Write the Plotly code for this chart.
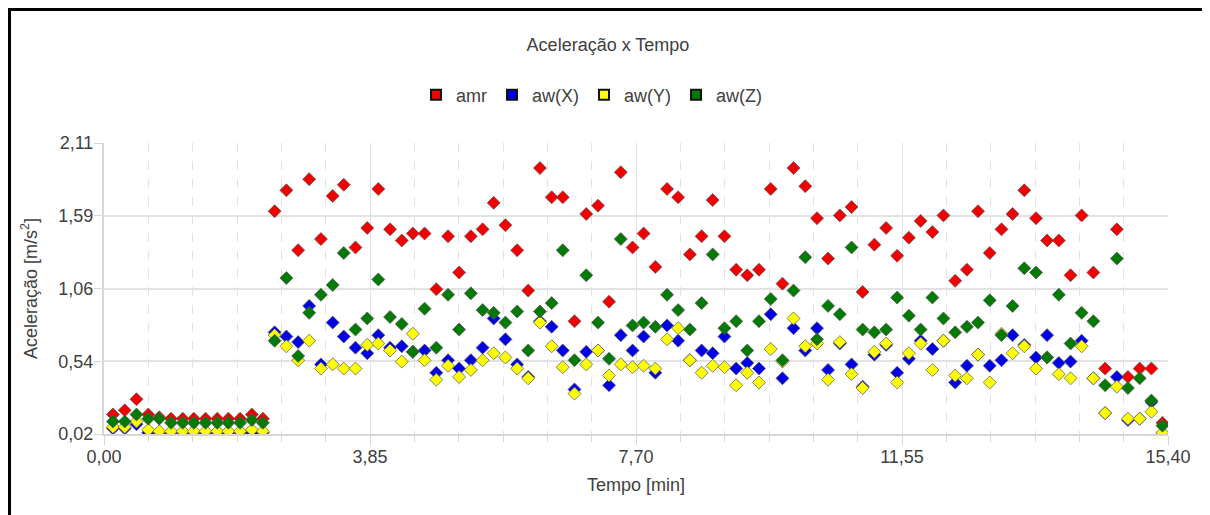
import plotly.graph_objects as go

# ---- data ----
tempo = [0.13, 0.30, 0.47, 0.64, 0.80, 0.97, 1.14, 1.30, 1.47, 1.64, 1.80, 1.97, 2.14, 2.30,
         2.47, 2.64, 2.81, 2.97, 3.14, 3.31, 3.47, 3.64, 3.81, 3.97, 4.14, 4.31, 4.47, 4.64,
         4.81, 4.98, 5.14, 5.31, 5.48, 5.64, 5.81, 5.98, 6.14, 6.31, 6.48, 6.64, 6.81, 6.98,
         7.15, 7.31, 7.48, 7.65, 7.81, 7.98, 8.15, 8.31, 8.48, 8.65, 8.81, 8.98, 9.15, 9.31,
         9.48, 9.65, 9.82, 9.98, 10.15, 10.32, 10.48, 10.65, 10.82, 10.98, 11.15, 11.32, 11.48,
         11.65, 11.82, 11.99, 12.15, 12.32, 12.49, 12.65, 12.82, 12.99, 13.15, 13.32, 13.49,
         13.65, 13.82, 13.99, 14.15, 14.32, 14.49, 14.66, 14.82, 14.99, 15.16, 15.32]

amr = [0.16, 0.19, 0.27, 0.16, 0.14, 0.13, 0.13, 0.13, 0.13, 0.13, 0.13, 0.13, 0.16, 0.13,
       1.62, 1.77, 1.34, 1.85, 1.42, 1.73, 1.81, 1.36, 1.50, 1.78, 1.49, 1.41, 1.46, 1.46,
       1.06, 1.44, 1.18, 1.44, 1.49, 1.68, 1.52, 1.34, 1.05, 1.93, 1.72, 1.72, 0.83, 1.60,
       1.66, 0.97, 1.90, 1.36, 1.46, 1.22, 1.78, 1.72, 1.31, 1.44, 1.70, 1.44, 1.20, 1.16,
       1.20, 1.78, 1.10, 1.93, 1.80, 1.57, 1.28, 1.59, 1.65, 1.04, 1.38, 1.50, 1.30, 1.43,
       1.55, 1.47, 1.59, 1.12, 1.20, 1.62, 1.32, 1.49, 1.60, 1.77, 1.57, 1.41, 1.41, 1.16,
       1.59, 1.18, 0.49, 1.49, 0.43, 0.49, 0.49, 0.10]

aw_x = [0.06, 0.06, 0.09, 0.03, 0.03, 0.03, 0.03, 0.03, 0.03, 0.03, 0.03, 0.03, 0.03, 0.03,
        0.75, 0.72, 0.68, 0.94, 0.52, 0.82, 0.72, 0.64, 0.60, 0.73, 0.64, 0.65, 0.61, 0.62,
        0.46, 0.55, 0.49, 0.55, 0.64, 0.85, 0.70, 0.52, 0.43, 0.83, 0.79, 0.62, 0.34, 0.61,
        0.62, 0.37, 0.73, 0.62, 0.72, 0.46, 0.80, 0.69, 0.55, 0.62, 0.60, 0.72, 0.49, 0.53,
        0.49, 0.88, 0.42, 0.78, 0.62, 0.78, 0.48, 0.67, 0.52, 0.36, 0.59, 0.66, 0.46, 0.56,
        0.69, 0.63, 0.69, 0.39, 0.51, 0.59, 0.51, 0.55, 0.73, 0.66, 0.57, 0.73, 0.53, 0.54,
        0.69, 0.42, 0.17, 0.43, 0.12, 0.13, 0.25, 0.02]

aw_y = [0.07, 0.07, 0.11, 0.05, 0.04, 0.04, 0.04, 0.04, 0.04, 0.04, 0.04, 0.04, 0.05, 0.04,
        0.73, 0.65, 0.55, 0.69, 0.49, 0.52, 0.49, 0.49, 0.66, 0.67, 0.62, 0.54, 0.74, 0.55,
        0.41, 0.51, 0.43, 0.48, 0.55, 0.60, 0.57, 0.49, 0.42, 0.82, 0.65, 0.50, 0.31, 0.52,
        0.62, 0.44, 0.52, 0.50, 0.51, 0.49, 0.70, 0.78, 0.55, 0.46, 0.51, 0.50, 0.37, 0.46,
        0.39, 0.63, 0.54, 0.85, 0.65, 0.67, 0.41, 0.68, 0.45, 0.35, 0.61, 0.67, 0.39, 0.60,
        0.67, 0.48, 0.69, 0.44, 0.42, 0.59, 0.39, 0.74, 0.60, 0.65, 0.49, 0.57, 0.45, 0.42,
        0.65, 0.42, 0.17, 0.36, 0.13, 0.13, 0.18, 0.03]

aw_z = [0.11, 0.11, 0.16, 0.13, 0.13, 0.10, 0.10, 0.10, 0.10, 0.10, 0.10, 0.10, 0.12, 0.10,
        0.69, 1.14, 0.58, 0.89, 1.02, 1.09, 1.32, 0.77, 0.85, 1.13, 0.86, 0.81, 0.61, 0.92,
        0.64, 1.02, 0.77, 1.03, 0.91, 0.89, 0.82, 0.90, 0.62, 0.90, 0.96, 1.34, 0.55, 1.16,
        0.82, 0.56, 1.42, 0.80, 0.82, 0.79, 1.02, 0.91, 0.77, 0.96, 1.31, 0.78, 0.83, 0.62,
        0.83, 0.99, 0.55, 1.05, 1.29, 0.70, 0.94, 0.88, 1.36, 0.77, 0.75, 0.77, 1.00, 0.87,
        0.77, 1.00, 0.85, 0.75, 0.79, 0.82, 0.98, 0.73, 0.94, 1.21, 1.18, 0.57, 1.02, 0.67,
        0.89, 0.83, 0.37, 1.28, 0.35, 0.42, 0.26, 0.08]

series_names = ["amr", "aw(X)", "aw(Y)", "aw(Z)"]
series_values = [amr, aw_x, aw_y, aw_z]
series_colors = ["#f20000", "#0000e6", "#ffff00", "#037a03"]

x_tickvals = [0.00, 3.85, 7.70, 11.55, 15.40]
x_ticktext = ["0,00", "3,85", "7,70", "11,55", "15,40"]
y_tickvals = [0.02, 0.5425, 1.065, 1.5875, 2.11]
y_ticktext = ["0,02", "0,54", "1,06", "1,59", "2,11"]

FONT = "Liberation Sans, Arial, sans-serif"
TXT = "#404040"

# figure is placed at (8, 8) in the page by the default body margin
W, H = 1202, 507
L, R, T, B = 96, 42, 135, 81
PW, PH = W - L - R, H - T - B


def px_x(v):
    return (v - L) / PW


def px_y(v):
    return (H - B - v) / PH


fig = go.Figure()
for name, vals, col in zip(series_names, series_values, series_colors):
    fig.add_trace(go.Scatter(
        x=tempo, y=vals, mode="markers", name=name, showlegend=False,
        marker=dict(symbol="diamond", size=10, color=col,
                    line=dict(color="rgba(90,90,90,0.75)", width=1)),
    ))
# legend entries (square swatches)
for name, col in zip(series_names, series_colors):
    fig.add_trace(go.Scatter(
        x=[None], y=[None], mode="markers", name=name, showlegend=True,
        marker=dict(symbol="square", size=10, color=col,
                    line=dict(color="#111111", width=2)),
    ))

fig.update_layout(
    width=W, height=H,
    margin=dict(l=L, r=R, t=T, b=B),
    paper_bgcolor="white", plot_bgcolor="white",
    font=dict(family=FONT, size=18, color=TXT),
    title=dict(text="Aceleração x Tempo", x=(608 - 8) / W, xref="container", xanchor="center",
               y=1 - 37 / H, yref="container", yanchor="middle",
               font=dict(family=FONT, size=18, color=TXT)),
    legend=dict(orientation="h", x=px_x(584), xanchor="center",
                y=px_y(87), yanchor="middle",
                font=dict(family=FONT, size=18, color=TXT),
                itemwidth=30, bgcolor="rgba(0,0,0,0)"),
    xaxis=dict(range=[0, 15.4], tickvals=x_tickvals, ticktext=x_ticktext,
               showgrid=True, gridcolor="#e2e2e2", gridwidth=1,
               showline=True, linecolor="#d6d6d6", linewidth=2,
               ticks="outside", ticklen=9, tickcolor="#d6d6d6", tickwidth=1,
               ticklabelstandoff=-4,
               zeroline=False,
               tickfont=dict(family=FONT, size=18, color=TXT),
               title=dict(text="Tempo [min]", standoff=13,
                          font=dict(family=FONT, size=18, color=TXT)),
               minor=dict(tick0=0, dtick=3.85 / 6, showgrid=True, gridcolor="#e2e2e2",
                          griddash="dash", gridwidth=1, ticks="outside", ticklen=6,
                          tickcolor="#d6d6d6")),
    yaxis=dict(range=[0.02, 2.11], tickvals=y_tickvals, ticktext=y_ticktext,
               showgrid=True, gridcolor="#e2e2e2", gridwidth=2,
               showline=True, linecolor="#d6d6d6", linewidth=2,
               ticks="outside", ticklen=8, tickcolor="#d6d6d6", tickwidth=1,
               ticklabelstandoff=-3,
               zeroline=False,
               tickfont=dict(family=FONT, size=18, color=TXT),
               title=dict(text="Aceleração [m/s<sup>2</sup>]", standoff=16,
                          font=dict(family=FONT, size=18, color=TXT))),
    shapes=[dict(type="rect", xref="paper", yref="paper",
                 x0=px_x(1.5), x1=px_x(1199),
                 y0=px_y(540), y1=px_y(1.5),
                 line=dict(color="black", width=3), fillcolor="rgba(0,0,0,0)",
                 layer="below")],
)

fig.write_html("out.html")
